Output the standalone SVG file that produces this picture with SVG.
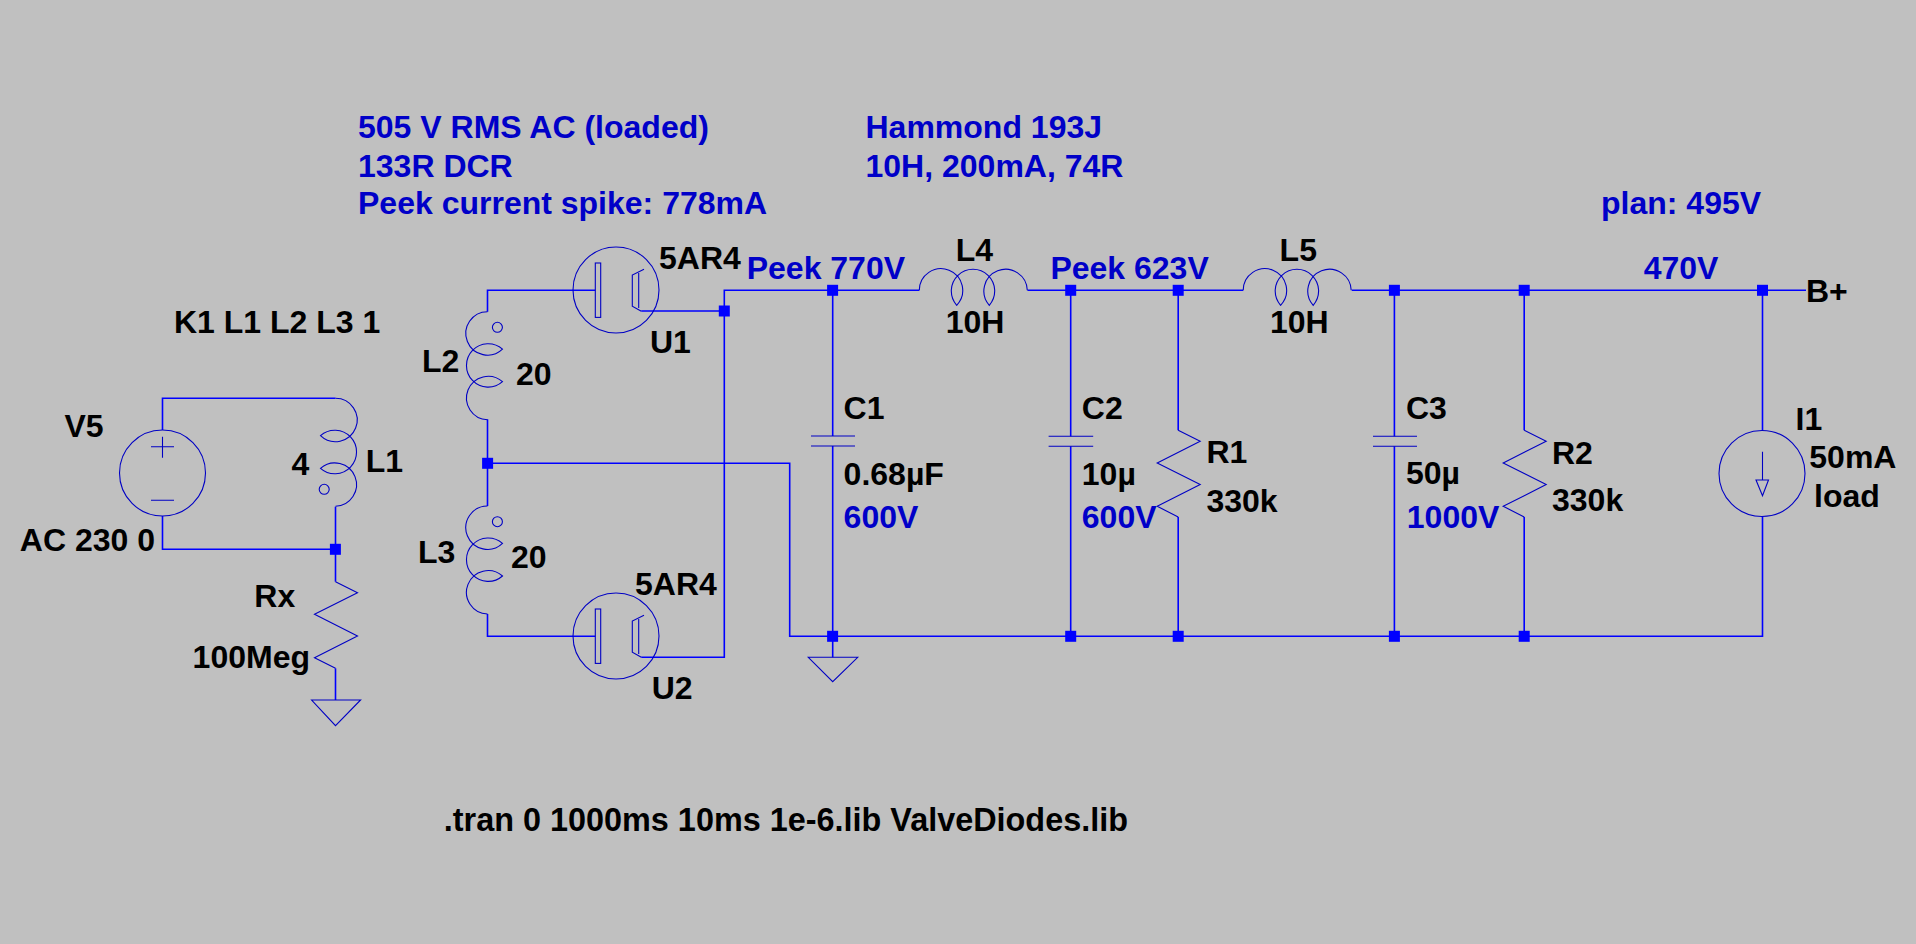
<svg xmlns="http://www.w3.org/2000/svg" xmlns:xlink="http://www.w3.org/1999/xlink" width="1916" height="944" viewBox="0 0 1916 944">
<style>
.w{fill:none;stroke:#0000ff;stroke-width:1.6}
.s{fill:none;stroke:#0000c4;stroke-width:1.1}
.j{fill:#0000ff}
text{font-family:"Liberation Sans",Arial,sans-serif;font-weight:700;font-size:32px;fill:#000}
.b{fill:#0000c8}
</style>
<defs>
<path id="coil" d="M0,0A21.7,21.7 0 1 1 37.4,15A21.7,21.7 0 1 1 70,15A21.7,21.7 0 1 1 108,0"/>
<path id="zig" d="M0,0L22,11L-21,32.6L22,54.3L-21,76L0,86.6"/>
<rect id="dot" x="-5.5" y="-5.5" width="11" height="11"/>
<g id="diode">
<circle cx="0" cy="0" r="43"/>
<rect x="-20.7" y="-27" width="5.4" height="54.4"/>
<path d="M28,-20.7L16.3,-15V16.3L25.3,21.3"/>
<path d="M22.7,-17V18"/>
</g>
</defs>
<rect x="0" y="0" width="1916" height="944" fill="#c0c0c0"/>
<g id="connectors" class="w">
<path d="M162.5,430V398.3H335.5"/>
<path d="M162.5,516V549.3H335.5"/>
<path d="M335.5,506.7V581.7"/>
<path d="M335.5,668.3V700"/>
<path d="M595.3,290.3H487.5V311.7"/>
<path d="M487.5,419.3V506"/>
<path d="M487.5,614V636.3H595.3"/>
<path d="M487.5,463.3H789.7V636.3H1762.5V516.3"/>
<path d="M641.3,311H724.3"/>
<path d="M641.3,657.3H724.3V290.3H919.3"/>
<path d="M1027.5,290.3H1243.2"/>
<path d="M1351.8,290.3H1806"/>
<path d="M832.7,290.3V436M832.7,446V657.3"/>
<path d="M1070.7,290.3V436.3M1070.7,446.3V636.3"/>
<path d="M1178.2,290.3V430.3M1178.2,516.9V636.3"/>
<path d="M1394.4,290.3V436.3M1394.4,446.3V636.3"/>
<path d="M1524.2,290.3V430.3M1524.2,516.9V636.3"/>
<path d="M1762.5,290.3V430.5"/>
</g>
<g id="junctions" class="j">
<use xlink:href="#dot" href="#dot" x="335.4" y="549.3"/>
<use xlink:href="#dot" href="#dot" x="487.6" y="463.3"/>
<use xlink:href="#dot" href="#dot" x="724.3" y="311"/>
<use xlink:href="#dot" href="#dot" x="832.6" y="290.3"/>
<use xlink:href="#dot" href="#dot" x="1070.7" y="290.3"/>
<use xlink:href="#dot" href="#dot" x="1178.2" y="290.3"/>
<use xlink:href="#dot" href="#dot" x="1394.4" y="290.3"/>
<use xlink:href="#dot" href="#dot" x="1524.2" y="290.3"/>
<use xlink:href="#dot" href="#dot" x="1762.5" y="290.3"/>
<use xlink:href="#dot" href="#dot" x="832.6" y="636.3"/>
<use xlink:href="#dot" href="#dot" x="1070.7" y="636.3"/>
<use xlink:href="#dot" href="#dot" x="1178.2" y="636.3"/>
<use xlink:href="#dot" href="#dot" x="1394.4" y="636.3"/>
<use xlink:href="#dot" href="#dot" x="1524.2" y="636.3"/>
</g>
<g id="V5"><g class="s"><circle cx="162.5" cy="473" r="43"/><path d="M151,446.7H174M162.5,436.7V457.7M151,500.3H174"/></g>
<text x="64.5" y="437.3">V5</text><text x="19.8" y="551">AC 230 0</text></g>
<g id="L1"><g class="s"><use href="#coil" transform="translate(335.5,398.3) rotate(90)"/><circle cx="324.2" cy="489.3" r="5"/></g>
<text x="291.4" y="475">4</text><text x="365.8" y="472.3">L1</text></g>
<g id="K1"><text x="174" y="333.3">K1 L1 L2 L3 1</text></g>
<g id="Rx"><use class="s" href="#zig" x="335.5" y="581.7"/>
<text x="254.3" y="606.7">Rx</text><text x="192.6" y="667.7">100Meg</text></g>
<g id="GND1"><path class="s" d="M311.6,700H360.6L335.5,725.7Z"/></g>
<g id="L2"><g class="s"><use href="#coil" transform="translate(487.5,311.7) scale(-1,1) rotate(90)"/><circle cx="497.4" cy="327.3" r="5"/></g>
<text x="421.9" y="372.3">L2</text><text x="516" y="385">20</text></g>
<g id="L3"><g class="s"><use href="#coil" transform="translate(487.5,506) scale(-1,1) rotate(90)"/><circle cx="497.4" cy="521.7" r="5"/></g>
<text x="418" y="563.3">L3</text><text x="511" y="568.3">20</text></g>
<g id="U1"><use class="s" href="#diode" x="616" y="290"/>
<text x="659" y="268.7">5AR4</text><text x="650" y="352.7">U1</text></g>
<g id="U2"><use class="s" href="#diode" x="616" y="636"/>
<text x="635" y="595">5AR4</text><text x="651.7" y="699.3">U2</text></g>
<g id="GND2"><path class="s" d="M808.3,657.3H857.7L832.7,681.7Z"/></g>
<g id="C1"><path class="s" d="M811,436H855M811,446H855"/>
<text x="843.6" y="419.3">C1</text><text x="843.6" y="484.7">0.68µF</text><text class="b" x="843.6" y="527.7">600V</text></g>
<g id="L4"><use class="s" href="#coil" x="919.3" y="290.3"/>
<text x="955.7" y="260.7">L4</text><text x="945.7" y="333.3">10H</text></g>
<g id="C2"><path class="s" d="M1048.6,436.3H1093.2M1048.6,446.3H1093.2"/>
<text x="1081.8" y="419.3">C2</text><text x="1081.8" y="484.7">10µ</text><text class="b" x="1081.8" y="527.7">600V</text></g>
<g id="R1"><use class="s" href="#zig" x="1178.2" y="430.3"/>
<text x="1206.4" y="463.3">R1</text><text x="1206.4" y="511.7">330k</text></g>
<g id="L5"><use class="s" href="#coil" x="1243.2" y="290.3"/>
<text x="1279.6" y="260.7">L5</text><text x="1270" y="333.3">10H</text></g>
<g id="C3"><path class="s" d="M1373,436.3H1417M1373,446.3H1417"/>
<text x="1406" y="418.7">C3</text><text x="1406" y="484">50µ</text><text class="b" x="1406.8" y="528.3">1000V</text></g>
<g id="R2"><use class="s" href="#zig" x="1524.2" y="430.3"/>
<text x="1552" y="464">R2</text><text x="1552" y="511">330k</text></g>
<g id="I1"><g class="s"><circle cx="1762" cy="473.5" r="43"/><path d="M1762.5,451.7V480M1756,480H1768.5L1762.5,495.7Z"/></g>
<text x="1795.5" y="430">I1</text><text x="1809.3" y="468.3">50mA</text><text x="1814" y="507.3">load</text></g>
<g id="Bplus"><text x="1806" y="301.7">B+</text></g>
<g id="notes">
<text class="b" x="358" y="138.3">505 V RMS AC (loaded)</text>
<text class="b" x="358" y="176.7">133R DCR</text>
<text class="b" x="358" y="214.3">Peek current spike: 778mA</text>
<text class="b" x="865.5" y="138.3">Hammond 193J</text>
<text class="b" x="865.5" y="176.7">10H, 200mA, 74R</text>
<text class="b" x="1601" y="214.3">plan: 495V</text>
<text class="b" x="746.7" y="279.3">Peek 770V</text>
<text class="b" x="1050.4" y="279.3">Peek 623V</text>
<text class="b" x="1643.7" y="279.3">470V</text>
<text x="443.8" y="830.7" style="font-size:32.4px">.tran 0 1000ms 10ms 1e-6.lib ValveDiodes.lib</text>
</g>
</svg>
